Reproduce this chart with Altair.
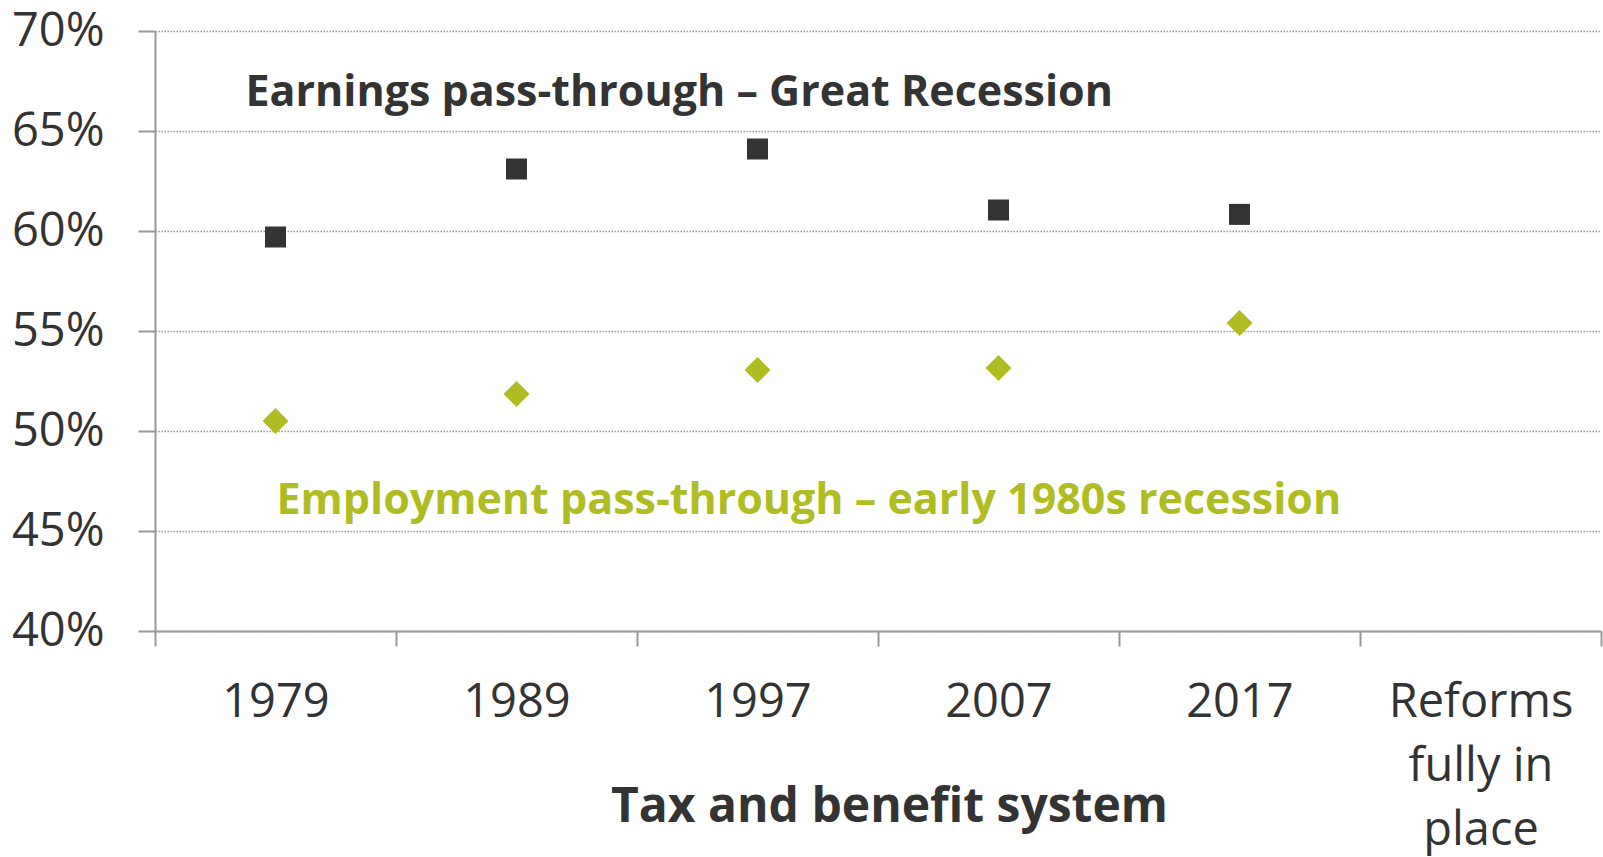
import altair as alt
import pandas as pd

systems = ["1979", "1989", "1997", "2007", "2017", "Reforms fully in place"]
data_systems = ["1979", "1989", "1997", "2007", "2017"]
earnings = [0.597, 0.631, 0.641, 0.6105, 0.6083]
employment = [0.505, 0.5185, 0.5305, 0.5315, 0.554]
y_ticks = [0.40, 0.45, 0.50, 0.55, 0.60, 0.65, 0.70]

earn_label = "Earnings pass-through \u2013 Great Recession"
emp_label = "Employment pass-through \u2013 early 1980s recession"

df_e = pd.DataFrame({"system": data_systems, "value": earnings})
df_m = pd.DataFrame({"system": data_systems, "value": employment})
ann_e = pd.DataFrame({"system": ["1979"], "value": [0.669], "label": [earn_label]})
ann_m = pd.DataFrame({"system": ["1979"], "value": [0.465], "label": [emp_label]})

FONT = "Open Sans"
DARK = "#333333"
OLIVE = "#afbd22"
GREY = "#999999"

x_enc = alt.X(
    "system:N",
    sort=systems,
    scale=alt.Scale(domain=systems, paddingInner=0, paddingOuter=0),
    axis=alt.Axis(
        title="Tax and benefit system",
        labelAngle=0,
        tickBand="extent",
        labelFont=FONT,
        labelFontSize=47,
        labelColor=DARK,
        labelPadding=33,
        labelLimit=0,
        labelOverlap=False,
        labelLineHeight=64,
        labelExpr="datum.label == 'Reforms fully in place' ? ['Reforms', 'fully in', 'place'] : datum.label",
        tickSize=15,
        tickColor=GREY,
        tickWidth=2,
        domainColor=GREY,
        domainWidth=2,
        grid=False,
        titleFont=FONT,
        titleFontSize=48,
        titleFontWeight="bold",
        titleColor=DARK,
        titleX=734,
        titleY=190,
        titleAlign="center",
        titleBaseline="alphabetic",
    ),
)

y_enc = alt.Y(
    "value:Q",
    scale=alt.Scale(domain=[0.40, 0.70], nice=False, zero=False),
    axis=alt.Axis(
        title=None,
        values=y_ticks,
        format=".0%",
        labelFont=FONT,
        labelFontSize=47,
        labelColor=DARK,
        labelPadding=34,
        tickSize=17,
        tickColor=GREY,
        tickWidth=2,
        domainColor=GREY,
        domainWidth=2,
        grid=True,
        gridColor=GREY,
        gridWidth=1.5,
        gridDash=[1.5, 1.5],
    ),
)

sq = alt.Chart(df_e).mark_point(
    shape="square", filled=True, size=441, color=DARK, opacity=1
).encode(x=x_enc, y=y_enc)

dm = alt.Chart(df_m).mark_point(
    shape="diamond", filled=True, size=676, color=OLIVE, opacity=1
).encode(x=alt.X("system:N", sort=systems), y="value:Q")

t1 = alt.Chart(ann_e).mark_text(
    align="left", baseline="middle", font=FONT, fontSize=43, fontWeight="bold",
    color=DARK, dx=-30
).encode(x=alt.X("system:N", sort=systems), y="value:Q", text="label:N")

t2 = alt.Chart(ann_m).mark_text(
    align="left", baseline="middle", font=FONT, fontSize=43, fontWeight="bold",
    color=OLIVE, dx=1
).encode(x=alt.X("system:N", sort=systems), y="value:Q", text="label:N")

chart = alt.layer(sq, dm, t1, t2).properties(
    width=1446,
    height=600,
    padding={"left": 155, "top": 31, "right": 2, "bottom": 226},
    autosize=alt.AutoSizeParams(type="none"),
    background="white",
).configure_view(stroke=None)

chart.save("out.html", embed_options={"renderer": "svg", "actions": False})
